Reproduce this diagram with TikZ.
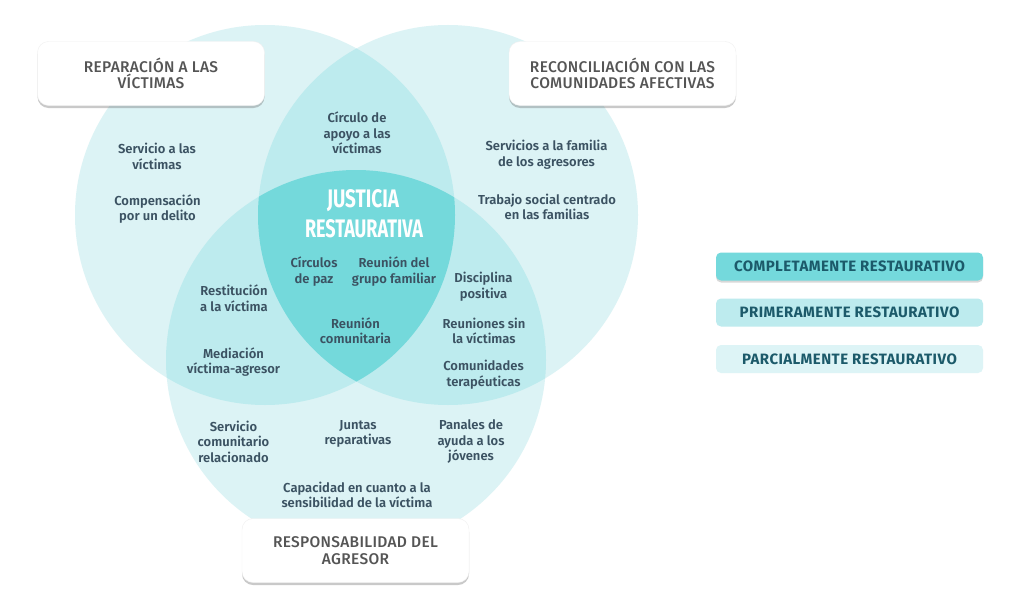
\documentclass[tikz,border=0pt]{standalone}
\usepackage{fontspec}
\setmainfont{Fira Sans}[UprightFont=* SemiBold, BoldFont=* Bold]
\newfontfamily\medf{Fira Sans Medium}[LetterSpace=2]
\newfontfamily\legf{Fira Sans Bold}[LetterSpace=3]
\usetikzlibrary{shadows}
\definecolor{cone}{HTML}{DCF3F5}
\definecolor{ctwo}{HTML}{BDEBEE}
\definecolor{cthree}{HTML}{74D9DB}
\definecolor{txt}{HTML}{3B5262}
\definecolor{ttl}{HTML}{555555}
\definecolor{lgt}{HTML}{1C5A6A}
\definecolor{lgone}{HTML}{74D9DC}
\definecolor{lgtwo}{HTML}{BDEBEE}
\definecolor{lgthree}{HTML}{DDF4F6}
\tikzset{
 lbl/.style={text=txt, align=center, font=\fontsize{13}{15.7}\selectfont, inner sep=0pt},
 titlebox/.style={draw=black!6, fill=white, rounded corners=11pt, minimum width=227pt, minimum height=64pt, align=center, text=ttl, font=\medf\fontsize{15.5}{16.7}\selectfont, drop shadow={shadow xshift=0pt, shadow yshift=-2.5pt, opacity=0.35, fill=black!60}},
 legbox/.style={rounded corners=5pt, minimum width=267pt, minimum height=28pt, text=lgt, font=\legf\fontsize{15}{15}\selectfont, inner sep=0pt}
}
\begin{document}
\begin{tikzpicture}[x=1pt,y=-1pt]
\useasboundingbox (0,0) rectangle (1024,594);
\fill[white] (0,0) rectangle (1024,594);
% circles
\coordinate (cl) at (265,215);
\coordinate (cr) at (448,215);
\coordinate (cb) at (356,360);
\fill[cone] (cl) circle (190pt);
\fill[cone] (cr) circle (190pt);
\fill[cone] (cb) circle (190pt);
\begin{scope}\clip (cl) circle (190pt); \fill[ctwo] (cr) circle (190pt); \fill[ctwo] (cb) circle (190pt);\end{scope}
\begin{scope}\clip (cr) circle (190pt); \fill[ctwo] (cb) circle (190pt);\end{scope}
\begin{scope}\clip (cl) circle (190pt); \clip (cr) circle (190pt); \fill[cthree] (cb) circle (190pt);\end{scope}
% title boxes
\node[titlebox] (tl) at (151,73.5) {REPARACIÓN A LAS\\VÍCTIMAS};
\node[titlebox] (tr) at (622.5,73.5) {RECONCILIACIÓN CON LAS\\COMUNIDADES AFECTIVAS};
\node[titlebox] (tb) at (355.5,550.5) {RESPONSABILIDAD DEL\\AGRESOR};
% center title
\node[inner sep=0pt, text=white] (jus) at (363,201) {\resizebox{72pt}{18pt}{\bfseries JUSTICIA}};
\node[inner sep=0pt, text=white] (res) at (364,229) {\resizebox{118pt}{18pt}{\bfseries RESTAURATIVA}};
% labels
\node[lbl] (a1) at (157,156.5) {Servicio a las\\víctimas};
\node[lbl] (a2) at (157.5,209) {Compensación\\por un delito};
\node[lbl] (b1) at (357,133) {Círculo de\\apoyo a las\\víctimas};
\node[lbl] (c1) at (546.5,155) {Servicios a la familia\\de los agresores};
\node[lbl] (c2) at (547,207) {Trabajo social centrado\\en las familias};
\node[lbl] (d1) at (314,271.5) {Círculos\\de paz};
\node[lbl] (d2) at (394,271.5) {Reunión del\\grupo familiar};
\node[lbl] (d3) at (355.5,330.7) {Reunión\\comunitaria};
\node[lbl] (e1) at (234,298) {Restitución\\a la víctima};
\node[lbl] (e2) at (233.5,362) {Mediación\\víctima-agresor};
\node[lbl] (f1) at (483.5,286.5) {Disciplina\\positiva};
\node[lbl] (f2) at (484,331) {Reuniones sin\\la víctimas};
\node[lbl] (f3) at (483.5,375) {Comunidades\\terapéuticas};
\node[lbl] (g1) at (233.5,441.7) {Servicio\\comunitario\\relacionado};
\node[lbl] (g2) at (358,434) {Juntas\\reparativas};
\node[lbl] (g3) at (471,441.7) {Panales de\\ayuda a los\\jóvenes};
\node[lbl] (g4) at (357,495) {Capacidad en cuanto a la\\sensibilidad de la víctima};
% legend
\node[legbox, fill=lgone, drop shadow={shadow xshift=0pt, shadow yshift=-2pt, opacity=0.3, fill=black!50}] (l1) at (849.5,266.5) {COMPLETAMENTE RESTAURATIVO};
\node[legbox, fill=lgtwo] (l2) at (849.5,312.5) {PRIMERAMENTE RESTAURATIVO};
\node[legbox, fill=lgthree] (l3) at (849.5,359) {PARCIALMENTE RESTAURATIVO};
\end{tikzpicture}
\end{document}
